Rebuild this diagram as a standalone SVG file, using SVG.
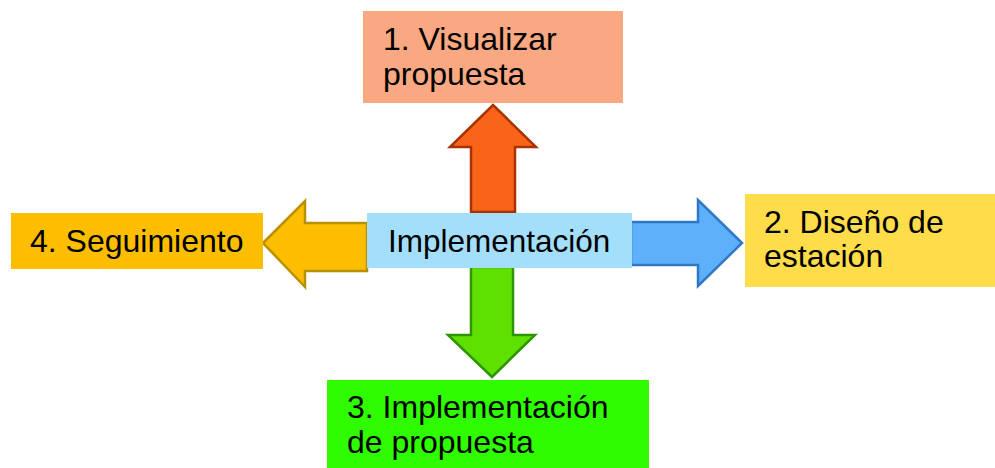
<svg xmlns="http://www.w3.org/2000/svg" width="995" height="468" viewBox="0 0 995 468">
<style>
text { font-family: "Liberation Sans", Arial, sans-serif; font-size: 32px; fill: #000; }
.arrow { stroke-width: 2.5; stroke-linejoin: miter; }
</style>
<rect width="995" height="468" fill="#ffffff"/>
<g id="connectors">
  <polygon class="arrow" points="493,105 536,147 515,147 515,212 471,212 471,147 450,147" fill="#F96419" stroke="#A83300"/>
  <polygon class="arrow" points="263,243 305,201 305,223 367,223 367,271 305,271 305,287" fill="#FDBE00" stroke="#B89000"/>
  <polygon class="arrow" points="742,243 698,200 698,222 631,222 631,265 698,265 698,286" fill="#5CB1FA" stroke="#2F78C8"/>
  <polygon class="arrow" points="492,377 535,335 513,335 513,267 471,267 471,335 448,335" fill="#5EE000" stroke="#2E9400"/>
</g>
<g id="node-center">
  <rect x="367" y="213" width="265" height="55" fill="#A3DFFB"/>
  <text x="388" y="252" style="font-size:31.5px">Implementación</text>
</g>
<g id="node-1">
  <rect x="363" y="11" width="260" height="92" fill="#F9A882"/>
  <text x="383" y="50">1. Visualizar</text>
  <text x="383" y="85">propuesta</text>
</g>
<g id="node-2">
  <rect x="745" y="194" width="250" height="93" fill="#FEDC4A"/>
  <text x="764" y="233">2. Diseño de</text>
  <text x="764" y="267">estación</text>
</g>
<g id="node-3">
  <rect x="327" y="380" width="322" height="88" fill="#30FC00"/>
  <text x="347" y="418">3. Implementación</text>
  <text x="347" y="453">de propuesta</text>
</g>
<g id="node-4">
  <rect x="11" y="213" width="252" height="56" fill="#FDBE00"/>
  <text x="30" y="252">4. Seguimiento</text>
</g>
</svg>
